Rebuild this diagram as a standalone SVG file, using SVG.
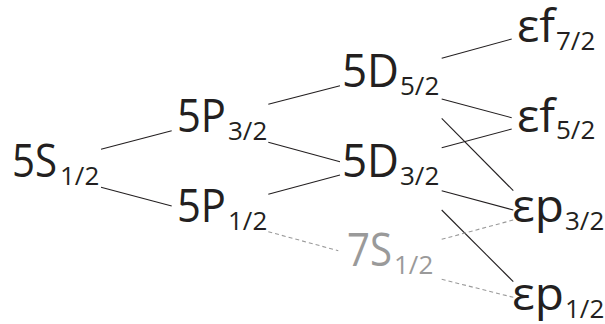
<svg xmlns="http://www.w3.org/2000/svg" width="605" height="324" viewBox="0 0 605 324">
<style>
text{font-family:"Open Sans","Liberation Sans",sans-serif;fill:#231f20}
.m{font-size:45px}
.s{font-size:26px}
.g text{fill:#9a9a9a}
.c line{stroke:#231f20;stroke-width:1.1}
.c line.d{stroke:#9a9a9a;stroke-dasharray:4 3}
</style>
<rect width="605" height="324" fill="#fff"/>
<g class="c" id="connectors">
<line x1="101" y1="149.3" x2="171.7" y2="130.7"/>
<line x1="101" y1="187.3" x2="171.7" y2="206"/>
<line x1="268.3" y1="104.3" x2="340" y2="85.7"/>
<line x1="268.3" y1="142.3" x2="340" y2="161.7"/>
<line x1="268.3" y1="194.3" x2="340" y2="175"/>
<line x1="441.7" y1="58.3" x2="511.7" y2="39"/>
<line x1="441.7" y1="99" x2="511.7" y2="117.7"/>
<line x1="441.7" y1="118.3" x2="513.3" y2="190.7"/>
<line x1="441.7" y1="147.7" x2="511.7" y2="129"/>
<line x1="441.7" y1="190.7" x2="513.3" y2="210"/>
<line x1="441.7" y1="210" x2="513.3" y2="281.7"/>
<line class="d" x1="268.3" y1="231.7" x2="338.3" y2="250.7"/>
<line class="d" x1="441.7" y1="239.3" x2="513.3" y2="220"/>
<line class="d" x1="441.7" y1="279.3" x2="513.3" y2="297.3"/>
</g>
<g id="n5S12"><text class="m" x="12" y="177" textLength="45" lengthAdjust="spacingAndGlyphs">5S</text><text class="s" x="60" y="185">1/2</text></g>
<g id="n5P32"><text class="m" x="177" y="132" textLength="49" lengthAdjust="spacingAndGlyphs">5P</text><text class="s" x="228" y="139.5">3/2</text></g>
<g id="n5P12"><text class="m" x="177" y="222" textLength="49" lengthAdjust="spacingAndGlyphs">5P</text><text class="s" x="228" y="229.5">1/2</text></g>
<g id="n5D52"><text class="m" x="342" y="87" textLength="57" lengthAdjust="spacingAndGlyphs">5D</text><text class="s" x="400" y="94.5">5/2</text></g>
<g id="n5D32"><text class="m" x="342" y="177" textLength="57" lengthAdjust="spacingAndGlyphs">5D</text><text class="s" x="400" y="184.5">3/2</text></g>
<g id="nef72"><text class="m" x="517" y="42" textLength="38" lengthAdjust="spacingAndGlyphs">εf</text><text class="s" x="556" y="49.5">7/2</text></g>
<g id="nef52"><text class="m" x="517" y="132" textLength="38" lengthAdjust="spacingAndGlyphs">εf</text><text class="s" x="556" y="139">5/2</text></g>
<g id="nep32"><text class="m" x="512" y="222" textLength="52" lengthAdjust="spacingAndGlyphs">εp</text><text class="s" x="565" y="229.5">3/2</text></g>
<g id="nep12"><text class="m" x="512" y="309.5" textLength="52" lengthAdjust="spacingAndGlyphs">εp</text><text class="s" x="565" y="317.5">1/2</text></g>
<g id="n7S12" class="g"><text class="m" x="347" y="266" textLength="45" lengthAdjust="spacingAndGlyphs">7S</text><text class="s" x="394" y="273.5">1/2</text></g>
</svg>
